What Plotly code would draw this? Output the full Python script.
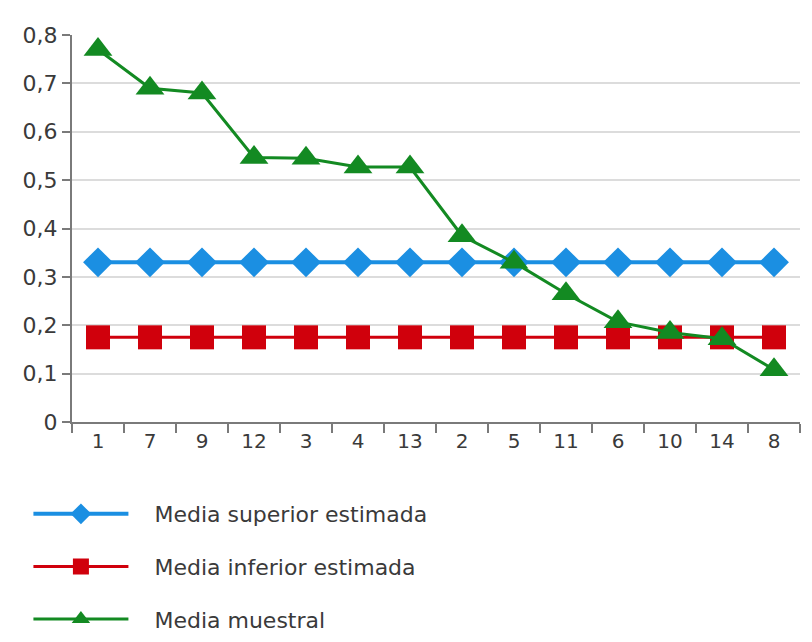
import plotly.graph_objects as go

# Categories along the x axis (sample identifiers, in plotted order)
muestras = ["1", "7", "9", "12", "3", "4", "13", "2", "5", "11", "6", "10", "14", "8"]

# Series values
media_superior = [0.33] * len(muestras)
media_inferior = [0.175] * len(muestras)
media_muestral = [0.77, 0.69, 0.68, 0.547, 0.545, 0.527, 0.527,
                  0.385, 0.33, 0.265, 0.207, 0.185, 0.172, 0.108]

AZUL = "#1b8fe2"
ROJO = "#d0000c"
VERDE = "#138a22"

# small gap between the legend symbol and its text
SEP = "\u00a0\u00a0\u00a0"

fig = go.Figure()
fig.add_trace(go.Scatter(
    x=muestras, y=media_superior, name=SEP + "Media superior estimada",
    mode="lines+markers", legendgroup="a",
    line=dict(color=AZUL, width=4),
    marker=dict(symbol="diamond", size=23, color=AZUL),
))
fig.add_trace(go.Scatter(
    x=muestras, y=media_inferior, name=SEP + "Media inferior estimada",
    mode="lines+markers", legendgroup="b",
    line=dict(color=ROJO, width=3),
    marker=dict(symbol="square", size=24, color=ROJO),
))
fig.add_trace(go.Scatter(
    x=muestras, y=media_muestral, name=SEP + "Media muestral",
    mode="lines+markers", legendgroup="c",
    line=dict(color=VERDE, width=3),
    marker=dict(symbol="triangle-up", size=25, color=VERDE),
))

fig.update_layout(
    width=812, height=642,
    margin=dict(l=72, r=12, t=35, b=220, autoexpand=False),
    paper_bgcolor="white", plot_bgcolor="white",
    separators=",.",
    font=dict(family="DejaVu Sans, Verdana, sans-serif", size=20, color="#3a3a3a"),
    showlegend=True,
    legend=dict(
        orientation="v", xref="container", x=0.035, xanchor="left",
        yref="container", y=0.232, yanchor="top",
        font=dict(size=22, color="#3a3a3a"),
        itemwidth=95, tracegroupgap=21,
        bgcolor="rgba(0,0,0,0)",
    ),
)

fig.update_xaxes(
    type="category", range=[-0.5, 13.5],
    showline=True, linecolor="#7a7a7a", linewidth=2,
    ticks="outside", tickson="boundaries", ticklen=9, tickwidth=2, tickcolor="#7a7a7a",
    showgrid=False, tickfont=dict(size=20),
)
fig.update_yaxes(
    range=[0, 0.8], dtick=0.1, tick0=0,
    showline=True, linecolor="#7a7a7a", linewidth=2,
    ticks="outside", ticklen=8, tickwidth=2, tickcolor="#7a7a7a",
    showgrid=True, gridcolor="#dcdcdc", gridwidth=1.5,
    zeroline=False, tickfont=dict(size=22),
)

fig.write_html("out.html")
